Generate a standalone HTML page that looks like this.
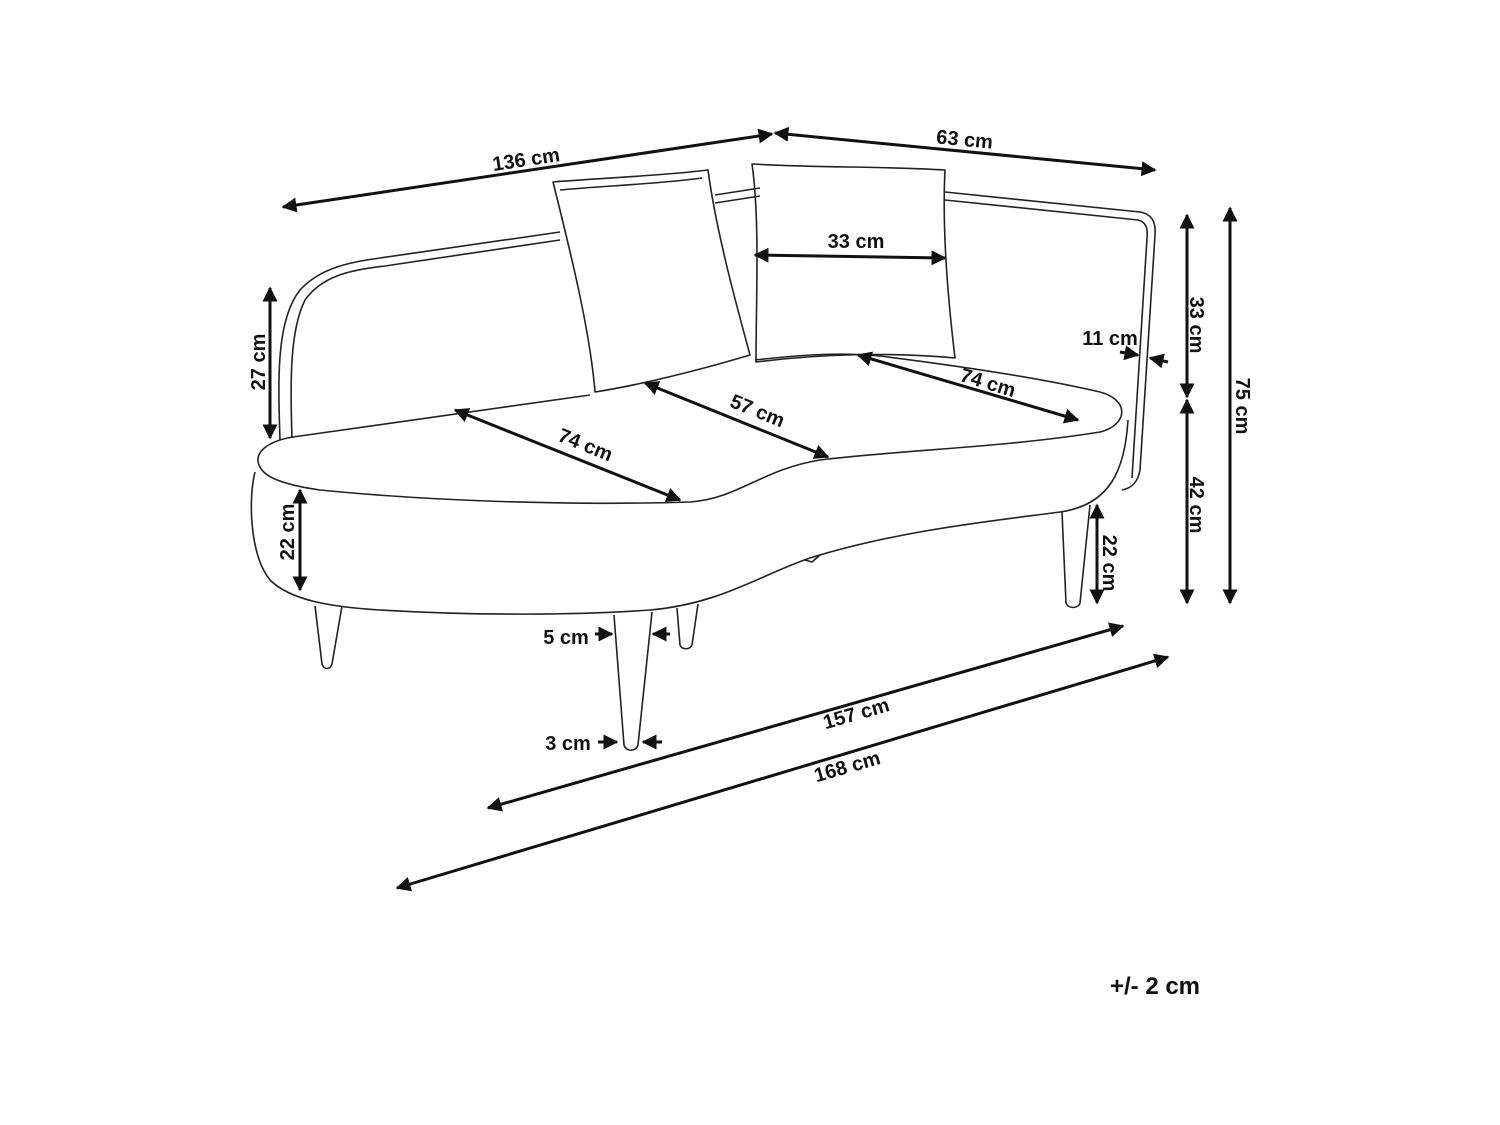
<!DOCTYPE html>
<html><head><meta charset="utf-8"><style>
html,body{margin:0;padding:0;background:#fff}
svg{display:block}
text{font-family:"Liberation Sans",Arial,sans-serif;font-weight:bold;font-size:20px;fill:#111}
</style></head><body>
<svg width="1500" height="1125" viewBox="0 0 1500 1125" xmlns="http://www.w3.org/2000/svg">
<defs>
<marker id="a" viewBox="0 0 10 10" refX="9" refY="5" markerWidth="5" markerHeight="5" orient="auto-start-reverse"><path d="M0,0 L10,5 L0,10 z" fill="#111"/></marker>
</defs>
<g fill="none" stroke="#222" stroke-width="1.6" stroke-linejoin="round">
<path d="M280,440 C278,380 276,320 300,290 C320,268 350,262 380,258 L560,232"/>
<path d="M292,438 C290,380 290,330 305,300 C322,276 350,270 385,266 L560,240"/>
<path d="M715,195 L760,188"/>
<path d="M715,203 L760,196"/>
<path d="M945,192 L1140,212 C1152,214 1156,222 1155,235 L1140,470 C1138,482 1132,488 1122,490"/>
<path d="M945,200 L1138,220 C1146,222 1148,228 1147,238 L1132,478"/>
<path d="M590,395 L300,436 C265,440 250,455 262,470 C268,478 285,485 320,490 C420,500 560,506 690,502 C740,498 760,470 820,460 C900,450 1000,448 1100,432 C1128,425 1130,400 1100,392 C1040,378 960,366 880,356 C840,352 800,355 755,360"/>
<path d="M255,472 C248,500 250,555 270,580 C290,600 330,607 380,610 C480,616 580,615 650,610 C720,604 760,575 810,558 C900,530 1000,520 1060,512 C1110,505 1125,470 1128,420"/>
<path d="M805,560 L812,562 L820,555"/>
<path d="M315,606 L322,664 C324,670 330,670 332,664 L342,606"/>
<path d="M614,615 L624,745 C626,752 636,752 638,745 L652,612"/>
<path d="M677,608 L680,645 C682,650 690,650 692,645 L698,604"/>
<path d="M1062,512 L1066,603 C1068,609 1078,609 1080,603 L1090,505"/>
<path d="M553,182 C600,178 660,176 708,170 C716,230 735,300 750,355 C700,370 640,385 595,392 C590,330 570,250 553,182 Z"/>
<path d="M560,190 C600,186 660,184 702,178"/>
<path d="M752,164 C820,168 880,166 945,170 C942,230 948,300 955,358 C890,352 820,354 756,362 C756,300 760,220 752,164 Z"/>
</g>
<g stroke="#111" stroke-width="3" fill="none" marker-start="url(#a)" marker-end="url(#a)">
<line x1="283" y1="207" x2="772" y2="134"/>
<line x1="775" y1="133" x2="1155" y2="170"/>
<line x1="1187" y1="215" x2="1187" y2="397"/>
<line x1="1187" y1="400" x2="1187" y2="603"/>
<line x1="1230" y1="208" x2="1230" y2="603"/>
<line x1="270" y1="288" x2="270" y2="438"/>
<line x1="300" y1="490" x2="300" y2="590"/>
<line x1="1097" y1="505" x2="1097" y2="603"/>
<line x1="755" y1="255" x2="945" y2="258"/>
<line x1="455" y1="410" x2="680" y2="500"/>
<line x1="645" y1="383" x2="828" y2="457"/>
<line x1="858" y1="355" x2="1078" y2="420"/>
<line x1="488" y1="808" x2="1123" y2="626"/>
<line x1="397" y1="888" x2="1168" y2="657"/>
</g>
<g stroke="#111" stroke-width="3" fill="none" marker-end="url(#a)">
<line x1="1120" y1="352" x2="1138" y2="355"/>
<line x1="1168" y1="362" x2="1150" y2="358"/>
<line x1="595" y1="634" x2="612" y2="634"/>
<line x1="670" y1="634" x2="653" y2="634"/>
<line x1="598" y1="742" x2="617" y2="742"/>
<line x1="662" y1="742" x2="643" y2="742"/>
</g>
<text transform="translate(527,166) rotate(-8.5)" text-anchor="middle">136 cm</text>
<text transform="translate(964,146) rotate(5.6)" text-anchor="middle">63 cm</text>
<text transform="translate(1190,325) rotate(90)" text-anchor="middle">33 cm</text>
<text transform="translate(1190,505) rotate(90)" text-anchor="middle">42 cm</text>
<text transform="translate(1236,406) rotate(90)" text-anchor="middle">75 cm</text>
<text transform="translate(265,362) rotate(-90)" text-anchor="middle">27 cm</text>
<text transform="translate(294,532) rotate(-90)" text-anchor="middle">22 cm</text>
<text transform="translate(1103,563) rotate(90)" text-anchor="middle">22 cm</text>
<text x="856" y="248" text-anchor="middle">33 cm</text>
<text x="1110" y="345" text-anchor="middle">11 cm</text>
<text transform="translate(583,451) rotate(22)" text-anchor="middle">74 cm</text>
<text transform="translate(755,417) rotate(22)" text-anchor="middle">57 cm</text>
<text transform="translate(986,389) rotate(17)" text-anchor="middle">74 cm</text>
<text x="566" y="644" text-anchor="middle">5 cm</text>
<text x="568" y="750" text-anchor="middle">3 cm</text>
<text transform="translate(858,720) rotate(-16)" text-anchor="middle">157 cm</text>
<text transform="translate(849,773) rotate(-16)" text-anchor="middle">168 cm</text>
<text x="1155" y="994" text-anchor="middle" style="font-size:24px">+/- 2 cm</text>
</svg>
</body></html>
